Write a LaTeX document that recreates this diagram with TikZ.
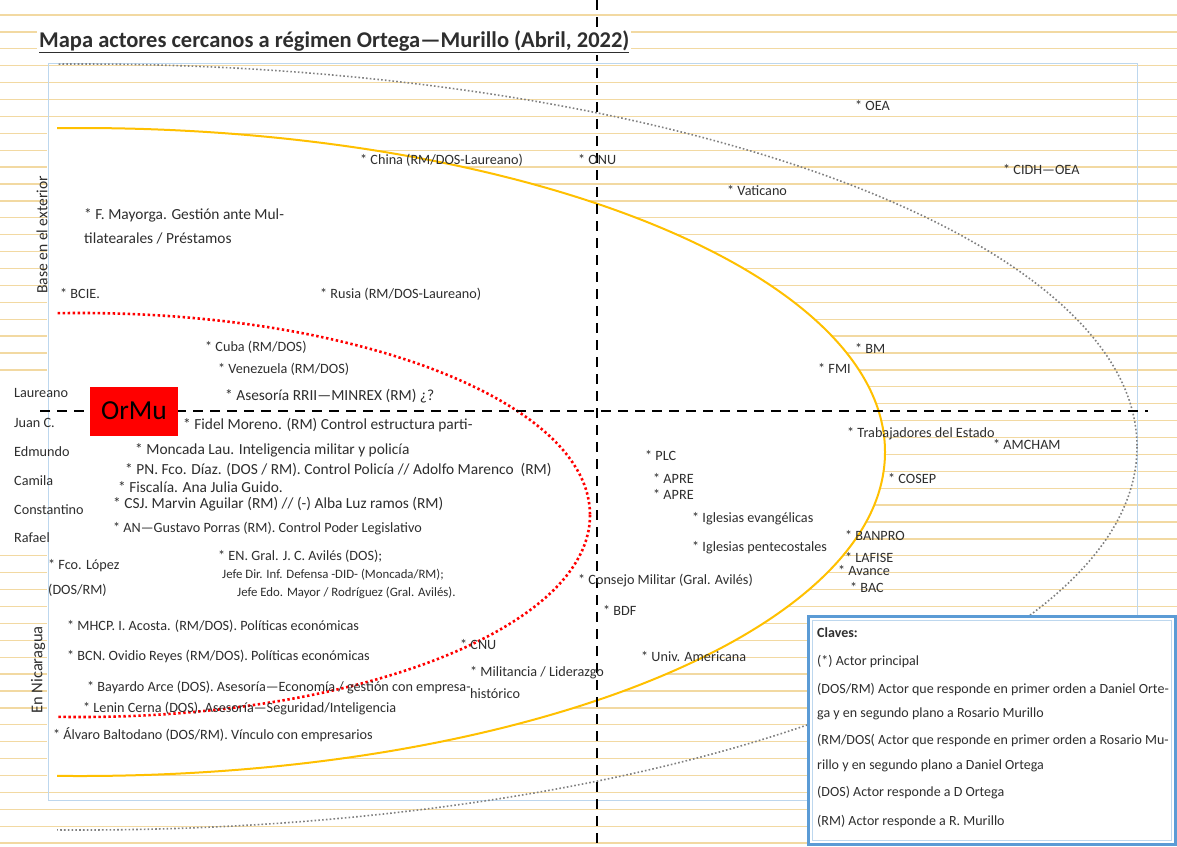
\documentclass[tikz,border=0pt]{standalone}
\usepackage{fontspec}
\setmainfont{Carlito}
\definecolor{ruleline}{HTML}{F2D9A2}
\definecolor{boxblue}{HTML}{BDD7EE}
\definecolor{legblue}{HTML}{5B9BD5}
\definecolor{gold}{HTML}{FFC000}
\definecolor{ink}{HTML}{2E2E2E}

\begin{document}
\begin{tikzpicture}[x=1pt, y=-1pt,
    actor/.style={anchor=west, inner sep=0pt, text=ink, font=\fontsize{14.2}{16}\selectfont},
    actorbig/.style={actor, font=\fontsize{15.4}{17}\selectfont},
    actorsmall/.style={actor, font=\fontsize{12.8}{14}\selectfont},
    person/.style={actor, font=\fontsize{14.2}{16}\selectfont},
    side/.style={rotate=90, inner sep=0pt, text=ink, font=\fontsize{15.6}{17}\selectfont},
    key/.style={actor, font=\fontsize{14}{16}\selectfont},
    axis/.style={line width=2.6pt, dash pattern=on 10pt off 7pt}]

    \useasboundingbox (0,0) rectangle (1177,846);
    \fill[white] (0,0) rectangle (1177,846);

    % lined paper
    \foreach \k in {0,...,49}
        \draw[ruleline, line width=1.3pt] (0,{15+16.9*\k}) -- (1177,{15+16.9*\k});

    % blank areas
    \begin{scope}
        \clip (47,0) rectangle (1177,846);
        \fill[white] (80,452) ellipse [x radius=805, y radius=324];
    \end{scope}
    \fill[white] (0,380) rectangle (92,548);
    \draw[boxblue, line width=1pt] (48,63) rectangle (1137,800);

    % rings
    \begin{scope}
        \clip (57,0) rectangle (1177,846);
        \draw[gray, line width=1.6pt, dash pattern=on 1.6pt off 2.2pt] (80,447) ellipse [x radius=1057, y radius=383];
        \draw[gold, line width=2pt] (80,452) ellipse [x radius=805, y radius=324];
        \draw[red, line width=2.6pt, dash pattern=on 2.4pt off 2.6pt] (80,515) ellipse [x radius=510, y radius=202];
    \end{scope}

    % axes
    \coordinate (top) at (597,0);
    \coordinate (bottom) at (597,846);
    \coordinate (west) at (40,411);
    \coordinate (east) at (1148,411);
    \draw[axis] (top) -- (bottom);
    \draw[axis] (west) -- (east);

    \node[fill=white, inner sep=2pt, anchor=west, text=ink, font=\bfseries\fontsize{22.5}{26}\selectfont] (title) at (37,42) {\underline{Mapa actores cercanos a régimen Ortega—Murillo (Abril, 2022)}};

    \node[side] (exterior) at (42,235) {Base en el exterior};
    \node[side, font=\fontsize{16.5}{18}\selectfont] (nicaragua) at (38,670) {En Nicaragua};

    % core
    \node[fill=red, minimum width=88pt, minimum height=49pt, inner sep=0pt, font=\fontsize{27.5}{30}\selectfont] (ormu) at (134,411) {OrMu};
    \node[person] (laureano) at (14,393) {Laureano};
    \node[person] (juan) at (14,423) {Juan C.};
    \node[person] (edmundo) at (14,452) {Edmundo};
    \node[person] (camila) at (14,481) {Camila};
    \node[person] (constantino) at (14,510) {Constantino};
    \node[person] (rafael) at (14,538) {Rafael};

    % exterior
    \node[actor] (oea) at (855,106) {* OEA};
    \node[actor] (cidh) at (1003,170) {* CIDH—OEA};
    \node[actor] (china) at (360,160) {* China (RM/DOS-Laureano)};
    \node[actor] (onu) at (578,160) {* ONU};
    \node[actor] (vaticano) at (727,191) {* Vaticano};
    \node[actorbig] (mayorga) at (84,215) {* F. Mayorga. Gestión ante Mul-};
    \node[actorbig] (mayorgab) at (84,238) {tilatearales / Préstamos};
    \node[actor] (bcie) at (60,294) {* BCIE.};
    \node[actor] (rusia) at (320,294) {* Rusia (RM/DOS-Laureano)};
    \node[actor] (cuba) at (205,347) {* Cuba (RM/DOS)};
    \node[actor] (venezuela) at (218,369) {* Venezuela (RM/DOS)};
    \node[actorbig] (minrex) at (225,396) {* Asesoría RRII—MINREX (RM) ¿?};
    \node[actor] (bm) at (855,348) {* BM};
    \node[actor] (fmi) at (818,368) {* FMI};

    % nicaragua
    \node[actorbig] (moreno) at (183,425) {* Fidel Moreno. (RM) Control estructura parti-};
    \node[actorbig] (moncada) at (135,450) {* Moncada Lau. Inteligencia militar y policía};
    \node[actorbig] (pn) at (125,470) {* PN. Fco. Díaz. (DOS / RM). Control Policía // Adolfo Marenco~~(RM)};
    \node[actorbig] (fiscalia) at (118,487) {* Fiscalía. Ana Julia Guido.};
    \node[actorbig] (csj) at (113,504) {* CSJ. Marvin Aguilar (RM) // (-) Alba Luz ramos (RM)};
    \node[actor] (an) at (113,529) {* AN—Gustavo Porras (RM). Control Poder Legislativo};
    \node[actor] (en) at (218,556) {* EN. Gral. J. C. Avilés (DOS);};
    \node[actorsmall] (did) at (222,575) {Jefe Dir. Inf. Defensa -DID- (Moncada/RM);};
    \node[actorsmall] (edo) at (237,593) {Jefe Edo. Mayor / Rodríguez (Gral. Avilés).};
    \node[actor] (lopez) at (48,566) {* Fco. López};
    \node[actor] (lopezb) at (48,590) {(DOS/RM)};
    \node[actor] (mhcp) at (67,626) {* MHCP. I. Acosta. (RM/DOS). Políticas económicas};
    \node[actor] (bcn) at (67,656) {* BCN. Ovidio Reyes (RM/DOS). Políticas económicas};
    \node[actor] (arce) at (87,688) {* Bayardo Arce (DOS). Asesoría—Economía / gestión con empresa-};
    \node[actor] (cerna) at (83,709) {* Lenin Cerna (DOS). Asesoría—Seguridad/Inteligencia};
    \node[actor] (baltodano) at (53,735) {* Álvaro Baltodano (DOS/RM). Vínculo con empresarios};
    \node[actor] (cnu) at (460,645) {* CNU};
    \node[actor] (militancia) at (470,673) {* Militancia / Liderazgo};
    \node[actor] (militanciab) at (470,694) {histórico};
    \node[actor] (plc) at (645,455) {* PLC};
    \node[actor] (aprea) at (653,478) {* APRE};
    \node[actor] (apreb) at (653,494) {* APRE};
    \node[actor] (evangelicas) at (692,519) {* Iglesias evangélicas};
    \node[actor] (pentecostales) at (692,548) {* Iglesias pentecostales};
    \node[actor] (consejo) at (578,581) {* Consejo Militar (Gral. Avilés)};
    \node[actor] (bdf) at (603,610) {* BDF};
    \node[actor] (univ) at (641,657) {* Univ. Americana};
    \node[actor] (trabajadores) at (847,434) {* Trabajadores del Estado};
    \node[actor] (amcham) at (993,444) {* AMCHAM};
    \node[actor] (cosep) at (888,478) {* COSEP};
    \node[actor] (banpro) at (845,535) {* BANPRO};
    \node[actor] (lafise) at (845,557) {* LAFISE};
    \node[actor] (avance) at (838,571) {* Avance};
    \node[actor] (bac) at (850,587) {* BAC};

    % legend
    \draw[legblue, line width=3pt, fill=white] (808,616) rectangle (1175,844);
    \draw[boxblue, line width=0.8pt] (812,620) rectangle (1171,840);
    \node[key, font=\bfseries\fontsize{14}{16}\selectfont] (claves) at (817,633) {Claves:};
    \node[key] (k1) at (817,661) {(*) Actor principal};
    \node[key] (k2) at (817,689) {(DOS/RM) Actor que responde en primer orden a Daniel Orte-};
    \node[key] (k3) at (817,714) {ga y en segundo plano a Rosario Murillo};
    \node[key] (k4) at (817,740) {(RM/DOS( Actor que responde en primer orden a Rosario Mu-};
    \node[key] (k5) at (817,766) {rillo y en segundo plano a Daniel Ortega};
    \node[key] (k6) at (817,793) {(DOS) Actor responde a D Ortega};
    \node[key] (k7) at (817,821) {(RM) Actor responde a R. Murillo};
\end{tikzpicture}
\end{document}
